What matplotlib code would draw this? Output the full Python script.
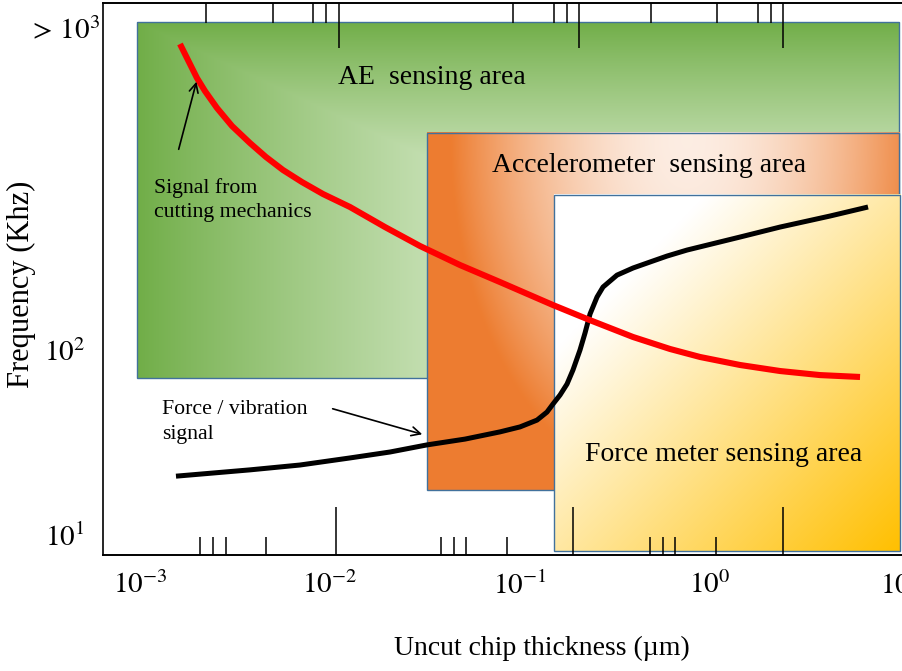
import numpy as np
import matplotlib
matplotlib.use("Agg")
import matplotlib.pyplot as plt
from matplotlib.patches import Rectangle
from matplotlib.ticker import NullFormatter, NullLocator, FixedLocator

plt.rcParams['font.family'] = ['Liberation Serif', 'DejaVu Serif']
plt.rcParams['mathtext.fontset'] = 'stix'

# curves (uncut chip thickness in um, frequency in kHz)
red_x = [1.624e-3, 1.746e-3, 1.878e-3, 1.995e-3, 2.198e-3, 2.543e-3, 3.05e-3, 3.792e-3,
         4.604e-3, 5.656e-3, 7.122e-3, 9.187e-3, 0.01274, 0.01948, 0.02976, 0.04832,
         0.07846, 0.1492, 0.2336, 0.3933, 0.6158, 0.8859, 1.438, 2.336, 3.793, 6.158]
red_y = [4510, 3884, 3344, 2953, 2512, 2033, 1625, 1315,
         1105, 940, 809, 697, 593, 462, 365, 288,
         233, 175, 145, 117.6, 101.3, 91.7, 83.0, 77.0, 73.2, 71.5]

black_x = [1.547e-3, 3.792e-3, 6.952e-3, 0.01274, 0.02069, 0.03239, 0.05135, 0.07846,
           0.1, 0.1229, 0.1387, 0.1492, 0.1624, 0.1768, 0.19, 0.2069, 0.2199, 0.2336,
           0.2543, 0.2734, 0.3239, 0.3933, 0.4832, 0.5938, 0.7567, 1.438, 2.336, 4.281,
           6.786]
black_y = [20.8, 22.5, 23.9, 26.1, 28.1, 30.7, 33.0, 36.1,
           38.4, 41.8, 46.2, 51.1, 57.1, 65.5, 78.0, 100, 123.6, 156.5,
           193.4, 219, 254, 277.5, 299, 322, 347, 408, 462, 530,
           593]

# sensing areas: (x0, x1, y0, y1)
ae_box = (9.64e-4, 9.88, 70.6, 5930)
acc_box = (0.0324, 9.88, 17.5, 1489)
force_box = (0.151, 10.0, 8.2, 689)

xlim = (6.39e-4, 10.24)
ylim = (7.8, 7510)
x_ticks = [1e-3, 1e-2, 1e-1, 1e0, 1e1]
x_labels = [r'$10^{-3}$', r'$10^{-2}$', r'$10^{-1}$', r'$10^{0}$', r'$10^{1}$']
y_ticks = [10, 100, 5500]
y_labels = [r'$10^{1}$', r'$10^{2}$', r'$>\,10^{3}$']

# decorative inner ticks
bot_long = [0.01075, 0.19, 2.42]
bot_short = [2.07e-3, 2.42e-3, 2.84e-3, 4.60e-3, 0.0384, 0.0449, 0.052, 0.0854,
             0.483, 0.566, 0.654, 1.075]
top_long = [0.01115, 0.2044, 2.42]
top_short = [2.23e-3, 5.01e-3, 8.14e-3, 9.53e-3, 0.0919, 0.151, 0.177,
             0.489, 1.088, 1.789, 2.095]

fig = plt.figure(figsize=(9.02, 6.71), dpi=100)
ax = fig.add_axes([0.1142, 0.1729, 0.8858, 0.8226])
ax.set_xscale('log')
ax.set_yscale('log')
ax.set_xlim(*xlim)
ax.set_ylim(*ylim)

to_axes = ax.transData + ax.transAxes.inverted()


def gradient_box(box, kind, z):
    x0, x1, y0, y1 = box
    (a0, b0), (a1, b1) = to_axes.transform([(x0, y0), (x1, y1)])
    n = 300
    u, v = np.meshgrid(np.linspace(0, 1, n), np.linspace(0, 1, n))  # v: 0 top
    if kind == 'green':
        dark = np.array([0.44, 0.68, 0.28])
        light = np.array([0.78, 0.88, 0.71])
        t = np.minimum(np.clip(u / 0.40, 0, 1), np.clip(v / 0.40, 0, 1))
        t = t ** 0.9
        img = dark + (light - dark) * t[..., None]
    elif kind == 'orange':
        dark = np.array([0.93, 0.49, 0.19])
        light = np.array([0.99, 0.93, 0.89])
        r = np.sqrt(((u - 0.55) / 0.50) ** 2 + ((v - 0.02) / 1.0) ** 2)
        t = np.clip(r, 0, 1) ** 1.8
        img = light + (dark - light) * t[..., None]
    else:
        gold = np.array([1.0, 0.75, 0.0])
        white = np.array([1.0, 1.0, 1.0])
        s = (u + v) / 2
        t = np.clip((s - 0.22) / 0.78, 0, 1)
        img = white + (gold - white) * t[..., None]
    ax.imshow(img, extent=(a0, a1, b0, b1), origin='upper', transform=ax.transAxes,
              aspect='auto', interpolation='bilinear', zorder=z)
    ax.add_patch(Rectangle((x0, y0), x1 - x0, y1 - y0, fill=False,
                           edgecolor='#41719C', lw=1.0, zorder=z + 0.1))


gradient_box(ae_box, 'green', 1)
gradient_box(acc_box, 'orange', 2)
gradient_box(force_box, 'yellow', 3)
ax.set_xlim(*xlim)
ax.set_ylim(*ylim)

ax.plot(black_x, black_y, color='black', lw=3.6, solid_capstyle='butt',
        solid_joinstyle='round', zorder=5)
ax.plot(red_x, red_y, color='#FF0000', lw=4.4, solid_capstyle='butt',
        solid_joinstyle='round', zorder=6)

ax.text(0.011, 2990, 'AE  sensing area', fontsize=20, va='center', ha='left', zorder=7)
ax.text(0.0712, 988, 'Accelerometer  sensing area', fontsize=20, va='center', ha='left', zorder=7)
ax.text(0.22, 27.1, 'Force meter sensing area', fontsize=20, va='center', ha='left', zorder=7)
ax.text(1.186e-3, 647, 'Signal from\ncutting mechanics', fontsize=15.7, va='center', ha='left',
        linespacing=1.4, zorder=7)
ax.text(1.305e-3, 40.8, 'Force / vibration\nsignal', fontsize=15.7, va='center', ha='left',
        linespacing=1.4, zorder=7)
ax.annotate('', xy=(2.0e-3, 2917), xytext=(1.585e-3, 1176),
            arrowprops=dict(arrowstyle='->', lw=1.2, color='black', mutation_scale=16), zorder=7)
ax.annotate('', xy=(0.0316, 34.7), xytext=(0.01, 48.6),
            arrowprops=dict(arrowstyle='->', lw=1.2, color='black', mutation_scale=16), zorder=7)

# axis ticks and labels
ax.xaxis.set_major_locator(FixedLocator(x_ticks))
ax.set_xticklabels(x_labels)
ax.xaxis.set_minor_locator(NullLocator())
ax.yaxis.set_major_locator(FixedLocator(y_ticks))
ax.set_yticklabels(y_labels)
ax.yaxis.set_minor_locator(NullLocator())
ax.tick_params(axis='both', which='major', length=0, labelsize=21)
ax.tick_params(axis='x', pad=12)
ax.tick_params(axis='y', pad=13)
ax.yaxis.get_major_ticks()[2].set_pad(2)

for side, longs, shorts, llen, slen in [('bottom', bot_long, bot_short, 34.6, 13.0),
                                        ('top', top_long, top_short, 32.4, 14.4)]:
    sec = ax.secondary_xaxis(side)
    sec.set_zorder(20)
    sec.set_xticks(longs)
    sec.set_xticks(shorts, minor=True)
    sec.xaxis.set_major_formatter(NullFormatter())
    sec.xaxis.set_minor_formatter(NullFormatter())
    sec.tick_params(which='major', direction='in', length=llen, width=1.1, color='black')
    sec.tick_params(which='minor', direction='in', length=slen, width=1.1, color='black')
    sec.spines[side].set_linewidth(1.2)

for s in ['left', 'bottom', 'top']:
    ax.spines[s].set_linewidth(1.2)
ax.spines['right'].set_visible(False)

fig.text(0.024, 0.577, 'Frequency (Khz)', rotation=90, fontsize=22, ha='center', va='center')
fig.text(0.601, 0.034, 'Uncut chip thickness (\u00b5m)', fontsize=20, ha='center', va='center')

fig.savefig('out.png', dpi=100)
